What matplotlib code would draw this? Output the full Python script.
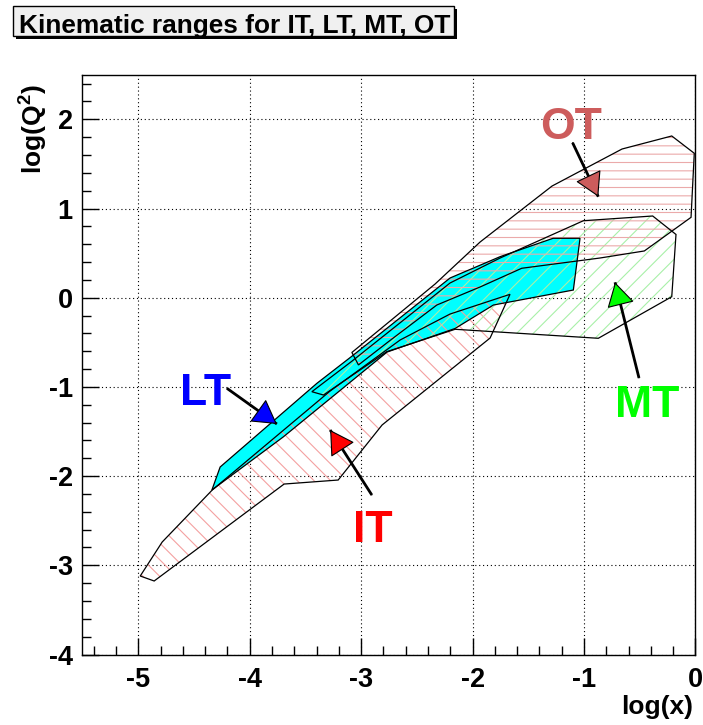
import matplotlib
matplotlib.use("Agg")
import matplotlib.pyplot as plt
from matplotlib.patches import Polygon, Rectangle, FancyArrowPatch
from matplotlib.ticker import MultipleLocator

plt.rcParams["font.family"] = ["Liberation Sans", "DejaVu Sans"]
plt.rcParams["font.weight"] = "bold"
plt.rcParams["mathtext.fontset"] = "custom"
plt.rcParams["mathtext.rm"] = "Liberation Sans:bold"
plt.rcParams["mathtext.bf"] = "Liberation Sans:bold"
plt.rcParams["hatch.linewidth"] = 0.8
plt.rcParams["axes.unicode_minus"] = False

# Acceptance regions in the (log x, log Q^2) plane
it_logx = [-4.982, -4.857, -3.691, -3.206, -2.812, -1.843, -1.664,
           -2.202, -2.650, -3.278, -4.336, -4.785]
it_logq2 = [-3.120, -3.176, -2.089, -2.044, -1.427, -0.452, 0.038,
            -0.183, -0.474, -1.046, -2.156, -2.739]

lt_logx = [-4.339, -4.265, -3.397, -3.081, -2.202, -1.753, -1.278,
           -1.036, -1.096, -1.813, -2.157, -2.767, -3.700]
lt_logq2 = [-2.156, -1.898, -0.960, -0.654, 0.221, 0.460, 0.666,
            0.666, 0.086, -0.082, -0.345, -0.609, -1.562]

mt_logx = [-3.442, -3.081, -2.202, -1.753, -1.006, -0.384, -0.175,
           -0.213, -0.872, -2.157, -2.770, -3.338]
mt_logq2 = [-1.054, -0.710, 0.165, 0.445, 0.863, 0.916, 0.709,
            0.011, -0.455, -0.354, -0.605, -1.091]

ot_logx = [-3.083, -2.336, -1.933, -1.287, -0.659, -0.213, -0.011,
           -0.040, -0.459, -0.857, -1.559, -1.933, -2.321, -2.755, -3.024]
ot_logq2 = [-0.614, 0.154, 0.624, 1.252, 1.667, 1.813, 1.619,
            0.901, 0.524, 0.445, 0.330, 0.120, -0.082, -0.493, -0.754]

# Region labels: name, text position, arrow start, arrow tip
labels = ["OT", "LT", "IT", "MT"]
label_x = [-1.116, -4.399, -2.894, -0.430]
label_y = [1.776, -1.203, -2.735, -1.337]
arrow_from_x = [-1.103, -4.204, -2.904, -0.507]
arrow_from_y = [1.738, -1.016, -2.212, -0.900]
arrow_to_x = [-0.872, -3.756, -3.278, -0.722]
arrow_to_y = [1.132, -1.416, -1.483, 0.173]
label_colors = ["#CD5C5C", "#0000FF", "#FF0000", "#00FF00"]

x_range = (-5.5, 0.0)
y_range = (-4.0, 2.5)

fig = plt.figure(figsize=(7.03, 7.25), dpi=100)
ax = fig.add_axes([0.11735, 0.09724, 0.87198, 0.79972])
ax.set_xlim(*x_range)
ax.set_ylim(*y_range)

# dotted grid under everything
ax.set_axisbelow(True)
ax.grid(True, which="major", color="black", linestyle=(0, (1, 2.5)), linewidth=0.8)

ax.xaxis.set_major_locator(MultipleLocator(1))
ax.xaxis.set_minor_locator(MultipleLocator(0.2))
ax.yaxis.set_major_locator(MultipleLocator(1))
ax.yaxis.set_minor_locator(MultipleLocator(0.2))
ax.tick_params(which="major", direction="in", length=12, width=1, labelsize=19.5)
ax.tick_params(axis="x", which="major", pad=9)
ax.tick_params(axis="y", which="major", pad=7)
ax.tick_params(which="minor", direction="in", length=6.5, width=1)
for sp in ax.spines.values():
    sp.set_linewidth(1)

# LT: solid cyan
ax.add_patch(Polygon(list(zip(lt_logx, lt_logq2)), closed=True,
                     facecolor="#00FFFF", edgecolor="none", zorder=1))

# hatched regions on top
ax.add_patch(Polygon(list(zip(it_logx, it_logq2)), closed=True, fill=False,
                     hatch="\\\\", edgecolor="#F4A0A0", linewidth=0, zorder=2))
ax.add_patch(Polygon(list(zip(mt_logx, mt_logq2)), closed=True, fill=False,
                     hatch="//", edgecolor="#A8F0A8", linewidth=0, zorder=2))
ax.add_patch(Polygon(list(zip(ot_logx, ot_logq2)), closed=True, fill=False,
                     hatch="--", edgecolor="#EBAAAA", linewidth=0, zorder=2))

# black outlines
for xs, ys in [(lt_logx, lt_logq2), (it_logx, it_logq2),
               (mt_logx, mt_logq2), (ot_logx, ot_logq2)]:
    ax.add_patch(Polygon(list(zip(xs, ys)), closed=True, fill=False,
                         edgecolor="black", linewidth=0.9, zorder=3))

# labels with arrows
for name, lx, ly, x0, y0, x1, y1, col in zip(labels, label_x, label_y,
                                             arrow_from_x, arrow_from_y,
                                             arrow_to_x, arrow_to_y, label_colors):
    ax.text(lx, ly, name, color=col, fontsize=32, fontweight="bold",
            ha="center", va="baseline", zorder=6)
    ax.plot([x0, x1], [y0, y1], color="black", linewidth=2.0,
            solid_capstyle="butt", zorder=5)
    ax.add_patch(FancyArrowPatch((x0, y0), (x1, y1),
                                 arrowstyle="-|>,head_length=15.5,head_width=9",
                                 mutation_scale=1, facecolor=col,
                                 edgecolor="black", linewidth=0.8,
                                 shrinkA=0, shrinkB=0, zorder=5.5))

# axis titles
fig.text(693 / 703, 1 - 714 / 725, "log(x)", fontsize=19, fontweight="bold",
         ha="right", va="baseline")
fig.text(49 / 703, 1 - 84 / 725, r"log(Q$^{2}$)", fontsize=19,
         fontweight="bold", rotation=90, ha="right", va="top")

# title box with shadow
px_w, px_h = 703.0, 725.0
bx0, bx1, by0, by1 = 12.5, 453.5, 5.5, 36.0
fig.add_artist(Rectangle(((bx0 + 3) / px_w, 1 - (by1 + 3) / px_h),
                         (bx1 - bx0) / px_w, (by1 - by0) / px_h,
                         transform=fig.transFigure, facecolor="black",
                         edgecolor="none"))
fig.add_artist(Rectangle((bx0 / px_w, 1 - by1 / px_h),
                         (bx1 - bx0) / px_w, (by1 - by0) / px_h,
                         transform=fig.transFigure, facecolor="#F0F0F0",
                         edgecolor="black", linewidth=1))
fig.text(19 / px_w, 1 - 33.3 / px_h, "Kinematic ranges for IT, LT, MT, OT",
         fontsize=18.9, fontweight="bold", ha="left", va="baseline")

fig.savefig("out.png", dpi=100)
